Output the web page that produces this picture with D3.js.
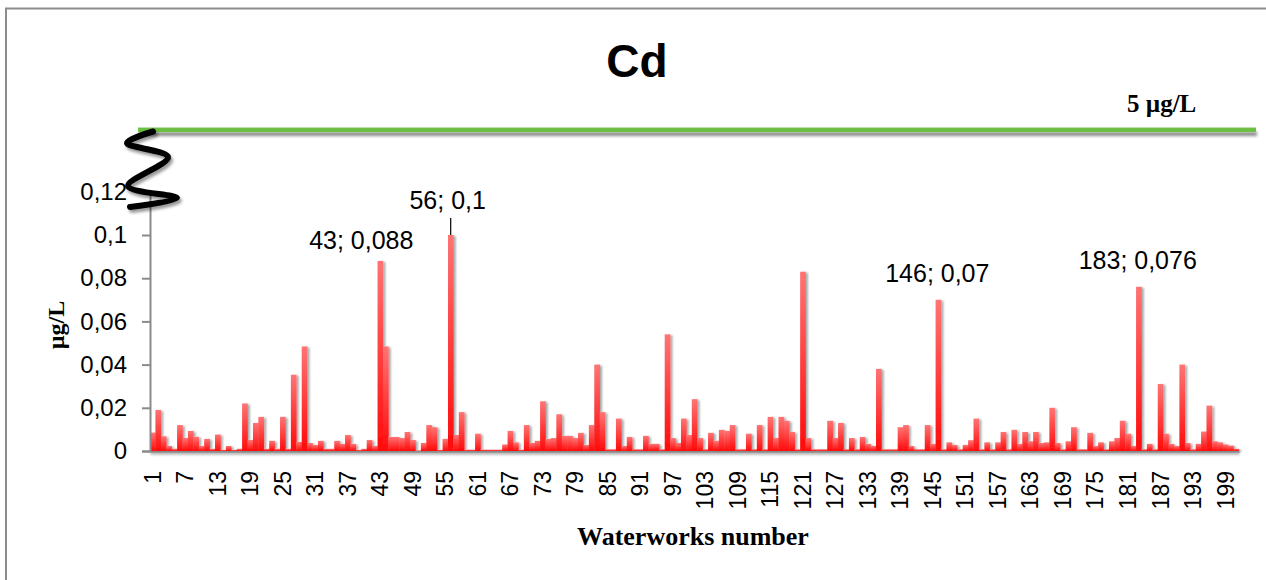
<!DOCTYPE html>
<html>
<head>
<meta charset="utf-8">
<script src="https://cdn.jsdelivr.net/npm/d3@7"></script>
<style>
  body { margin: 0; background: #fff; }
  svg { display: block; }
</style>
</head>
<body>
<svg id="chart" width="1266" height="580"></svg>
<script>
// Waterworks numbers 1..201
const waterworks = d3.range(1, 202);

// Cadmium concentration per waterworks (µg/L)
const cadmium = [
  0.0085, 0.019, 0.0068, 0.0023, 0.001, 0.012, 0.006, 0.0093, 0.0066, 0.0023,
  0.0056, 0.001, 0.0076, 0.0005, 0.0023, 0.0005, 0.001, 0.022, 0.0051, 0.013,
  0.0158, 0.001, 0.0047, 0.001, 0.0158, 0.001, 0.0353, 0.0042, 0.0484, 0.0037,
  0.0028, 0.0047, 0.001, 0.001, 0.0047, 0.0033, 0.0074, 0.0033, 0.0005, 0.001,
  0.0051, 0.0023, 0.088, 0.0484, 0.0065, 0.0065, 0.006, 0.0088, 0.0051, 0.0003,
  0.0037, 0.012, 0.011, 0.0005, 0.0056, 0.1, 0.0074, 0.018, 0.0006, 0.0006,
  0.008, 0.0006, 0.0006, 0.0006, 0.0006, 0.003, 0.0093, 0.004, 0.0006, 0.012,
  0.0037, 0.0047, 0.023, 0.0056, 0.006, 0.017, 0.007, 0.007, 0.006, 0.0084,
  0.0028, 0.012, 0.04, 0.018, 0.0008, 0.0008, 0.015, 0.0023, 0.0065, 0.0008,
  0.0008, 0.007, 0.0033, 0.0033, 0.0008, 0.054, 0.006, 0.0037, 0.015, 0.0074,
  0.024, 0.006, 0.0008, 0.0084, 0.0047, 0.0098, 0.0093, 0.012, 0.0008, 0.0008,
  0.008, 0.0008, 0.012, 0.0008, 0.0158, 0.006, 0.0158, 0.014, 0.0088, 0.0008,
  0.083, 0.006, 0.0008, 0.0008, 0.0008, 0.014, 0.006, 0.013, 0.0008, 0.006,
  0.0008, 0.0065, 0.0033, 0.0023, 0.038, 0.0008, 0.0008, 0.0008, 0.011, 0.012,
  0.0023, 0.0008, 0.0008, 0.012, 0.0033, 0.07, 0.0008, 0.004, 0.0028, 0.0008,
  0.0028, 0.005, 0.015, 0.0008, 0.004, 0.0008, 0.004, 0.0088, 0.0008, 0.0098,
  0.0033, 0.0088, 0.0045, 0.0088, 0.0037, 0.004, 0.02, 0.0037, 0.0008, 0.0045,
  0.011, 0.0008, 0.0008, 0.0084, 0.0023, 0.004, 0.0008, 0.0045, 0.006, 0.014,
  0.008, 0.0023, 0.076, 0.0008, 0.0033, 0.0008, 0.031, 0.008, 0.0033, 0.0023,
  0.04, 0.0037, 0.0008, 0.0033, 0.009, 0.021, 0.0045, 0.004, 0.003, 0.0025,
  0.001
];

// Labelled waterworks on the category axis
const xTickLabels = [1, 7, 13, 19, 25, 31, 37, 43, 49, 55, 61, 67, 73, 79, 85, 91, 97,
  103, 109, 115, 121, 127, 133, 139, 145, 151, 157, 163, 169, 175, 181, 187, 193, 199];

// Value axis ticks
const yTicks = [0, 0.02, 0.04, 0.06, 0.08, 0.1, 0.12];

// Waterworks that get a "number; value" callout
const calloutWorks = [43, 56, 146, 183];

// Drinking-water limit shown above the axis break
const limitLabel = "5 µg/L";

const chartTitle = "Cd";
const xTitle = "Waterworks number";
const yTitle = "µg/L";

// ---------------------------------------------------------------
const comma = v => String(v).replace(".", ",");
const data = waterworks.map((w, i) => ({ w, v: cadmium[i] }));

const svg = d3.select("#chart");
const SANS = "'Liberation Sans', Arial, sans-serif";
const SERIF = "'Liberation Serif', 'Times New Roman', serif";

const x = d3.scaleBand().domain(waterworks).range([150, 1239]).padding(0);
const y = d3.scaleLinear().domain([0, 0.12]).range([451, 191.8]);

// defs: bar gradient and soft shadows
const defs = svg.append("defs");
const grad = defs.append("linearGradient")
  .attr("id", "barFill").attr("x1", 0).attr("y1", 0).attr("x2", 0).attr("y2", 1);
grad.append("stop").attr("offset", "0%").attr("stop-color", "#ff7474");
grad.append("stop").attr("offset", "100%").attr("stop-color", "#ff0a0a");

// shadows use a fixed user-space region so flat lines still get one
function shadow(id, dx, dy, sd, op) {
  const f = defs.append("filter").attr("id", id)
    .attr("filterUnits", "userSpaceOnUse")
    .attr("x", 0).attr("y", 0).attr("width", 1266).attr("height", 580);
  f.append("feDropShadow").attr("dx", dx).attr("dy", dy)
    .attr("stdDeviation", sd).attr("flood-color", "#000").attr("flood-opacity", op);
}
shadow("barShadow", 2, 1, 1.2, 0.35);
shadow("axisShadow", 0, 2, 1.2, 0.3);
shadow("lineShadow", 1, 4, 1.6, 0.45);
shadow("breakShadow", 2, 3, 1.6, 0.4);

// outer chart frame
svg.append("rect")
  .attr("x", 6).attr("y", 8.5).attr("width", 1400).attr("height", 700)
  .attr("fill", "#fff").attr("stroke", "#8c8c8c").attr("stroke-width", 2);

// title
svg.append("text")
  .attr("x", 637).attr("y", 77).attr("text-anchor", "middle")
  .attr("font-family", SANS).attr("font-weight", "bold").attr("font-size", 46)
  .text(chartTitle);

// bars
svg.append("g").attr("filter", "url(#barShadow)")
  .selectAll("rect").data(data).join("rect")
  .attr("x", d => x(d.w))
  .attr("width", x.bandwidth() + 0.3)
  .attr("y", d => y(d.v))
  .attr("height", d => y(0) - y(d.v))
  .attr("fill", "url(#barFill)");

// value axis
const yAxis = svg.append("g").attr("transform", "translate(150,0)")
  .call(d3.axisLeft(y).tickValues(yTicks).tickSize(8).tickPadding(15).tickFormat(comma));
yAxis.select(".domain").attr("stroke", "#8a8a8a").attr("stroke-width", 2);
yAxis.selectAll(".tick line").attr("stroke", "#8a8a8a").attr("stroke-width", 2);
yAxis.selectAll("text").attr("font-family", SANS).attr("font-size", 24).attr("fill", "#000");

// category axis
const xAxis = svg.append("g").attr("transform", `translate(0,${y(0)})`)
  .call(d3.axisBottom(x).tickValues(xTickLabels).tickSize(0).tickSizeOuter(0));
xAxis.select(".domain").attr("stroke", "#8a8a8a").attr("stroke-width", 2.5)
  .attr("filter", "url(#axisShadow)");
xAxis.selectAll("text")
  .attr("transform", "rotate(-90)")
  .attr("x", -20).attr("y", 0).attr("dy", "0.35em")
  .attr("text-anchor", "end")
  .attr("font-family", SANS).attr("font-size", 23).attr("fill", "#000");

// axis titles
svg.append("text")
  .attr("x", 693).attr("y", 545).attr("text-anchor", "middle")
  .attr("font-family", SERIF).attr("font-weight", "bold").attr("font-size", 26)
  .text(xTitle);
svg.append("text")
  .attr("transform", "translate(64,325) rotate(-90)")
  .attr("text-anchor", "middle")
  .attr("font-family", SERIF).attr("font-weight", "bold").attr("font-size", 24)
  .text(yTitle);

// limit line above the axis break
const limitY = y(0.12) - 62;
svg.append("rect")
  .attr("x", 138).attr("width", 1256 - 138)
  .attr("y", limitY - 2.25).attr("height", 4.5)
  .attr("fill", "#6cbf43")
  .attr("filter", "url(#lineShadow)");
svg.append("text")
  .attr("x", 1127).attr("y", limitY - 17.5)
  .attr("font-family", SERIF).attr("font-weight", "bold").attr("font-size", 25)
  .text(limitLabel);

// axis-break squiggle
const breakPts = [[153, 131.5], [127, 143], [168, 157], [128, 186], [177, 198], [130, 207]];
svg.append("path")
  .attr("d", d3.line().curve(d3.curveCatmullRom.alpha(0.5))(breakPts))
  .attr("fill", "none").attr("stroke", "#000").attr("stroke-width", 6)
  .attr("stroke-linecap", "round").attr("stroke-linejoin", "round")
  .attr("filter", "url(#breakShadow)");

// callouts: "waterworks; value"
const calloutLayout = {
  43: { dx: -19, lift: 12 },
  56: { dx: -3, lift: 26, leader: 17 },
  146: { dx: -1, lift: 18 },
  183: { dx: -1, lift: 17.5 }
};
const callG = svg.append("g");
calloutWorks.forEach(w => {
  const d = data[w - 1];
  const cx = x(d.w) + x.bandwidth() / 2;
  const lay = calloutLayout[w];
  callG.append("text")
    .attr("x", cx + lay.dx).attr("y", y(d.v) - lay.lift)
    .attr("text-anchor", "middle")
    .attr("font-family", SANS).attr("font-size", 25).attr("fill", "#000")
    .text(`${d.w}; ${comma(d.v)}`);
  if (lay.leader) {
    callG.append("line")
      .attr("x1", cx).attr("x2", cx)
      .attr("y1", y(d.v) - lay.leader).attr("y2", y(d.v))
      .attr("stroke", "#000").attr("stroke-width", 1.2);
  }
});
</script>
</body>
</html>
